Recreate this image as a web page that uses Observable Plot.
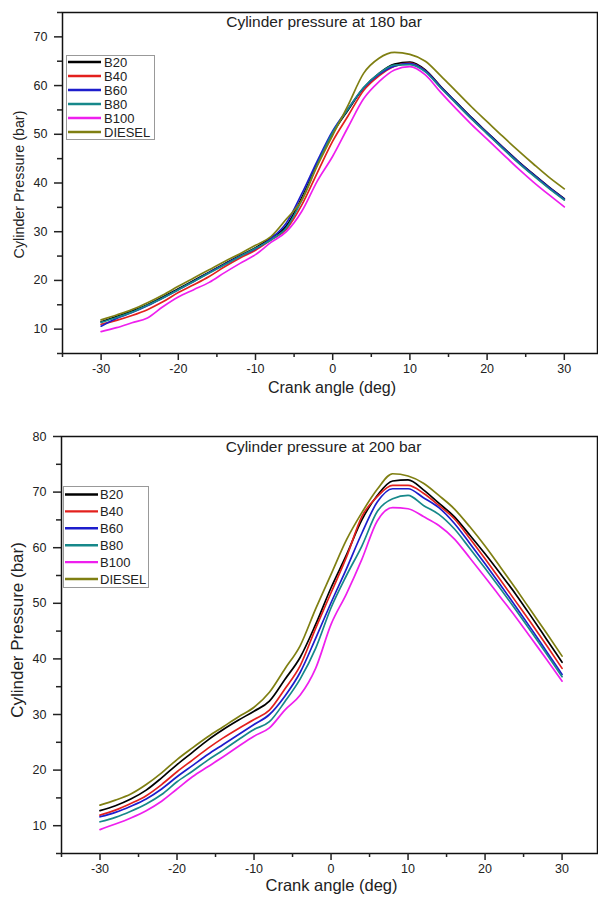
<!DOCTYPE html>
<html><head><meta charset="utf-8">
<script src="https://cdn.jsdelivr.net/npm/d3@7"></script>
<script src="https://cdn.jsdelivr.net/npm/@observablehq/plot@0.6"></script>
<style>
body{margin:0;background:#fff;}
#wrap{position:relative;width:598px;height:897px;font-family:"Liberation Sans",Arial,sans-serif;overflow:hidden;}
#wrap svg{position:absolute;left:0;}
</style></head><body><div id="wrap"></div>
<script>
// ---- data ----
const angles = [-30,-28,-26,-24,-22,-20,-18,-16,-14,-12,-10,-8,-6,-4,-2,0,2,4,6,8,10,12,14,16,18,20,22,24,26,28,30];
const series = ["B20","B40","B60","B80","B100","DIESEL"];
const colors = ["#000000","#e3201d","#1d1dcc","#16888a","#ee1fee","#7f7f12"];

const B20_180    = [11.5,12.6,13.7,15.0,16.6,18.3,20.0,21.7,23.4,25.1,26.7,28.7,31.2,37.0,44.0,50.2,55.0,59.5,62.5,64.4,64.8,63.2,59.8,56.6,53.4,50.4,47.4,44.5,41.8,39.2,36.8];
const B40_180    = [11.0,11.8,12.8,14.0,15.6,17.5,19.1,20.8,22.8,24.6,26.2,28.3,30.5,35.5,42.1,48.6,53.8,59.0,62.0,64.0,64.6,63.0,59.6,56.4,53.2,50.2,47.2,44.3,41.6,39.0,36.6];
const B60_180    = [10.6,12.2,13.4,14.8,16.4,18.1,19.8,21.6,23.3,25.0,26.5,28.6,31.8,37.8,44.5,50.7,55.3,59.5,62.3,64.0,64.5,63.0,59.7,56.5,53.3,50.3,47.3,44.4,41.7,39.1,36.7];
const B80_180    = [11.4,12.4,13.5,14.9,16.4,18.1,19.8,21.5,23.2,24.9,26.6,28.3,30.8,36.5,43.8,50.4,55.2,59.6,62.5,64.2,64.3,62.8,59.5,56.3,53.1,50.1,47.1,44.2,41.5,38.9,36.5];
const B100_180   = [9.5,10.3,11.3,12.3,14.6,16.6,18.1,19.6,21.6,23.5,25.3,27.8,30.0,34.2,40.4,45.5,51.5,57.3,60.8,63.2,63.9,62.2,58.6,55.2,52.0,49.0,46.0,43.0,40.2,37.6,35.1];
const DIESEL_180 = [11.9,12.9,14.0,15.4,17.0,18.8,20.5,22.2,23.9,25.5,27.2,29.0,32.6,36.5,43.5,49.8,56.0,62.5,65.6,66.8,66.4,65.0,62.0,58.8,55.6,52.6,49.6,46.7,43.9,41.2,38.8];

const B20_200    = [12.7,13.6,14.8,16.4,18.6,21.0,23.2,25.4,27.3,29.0,30.6,32.4,36.3,40.3,46.2,52.8,58.7,65.0,69.4,72.0,72.2,70.4,68.0,65.6,62.3,58.9,55.3,51.6,47.6,43.5,39.4];
const B40_200    = [11.9,12.8,14.0,15.4,17.4,19.7,21.8,23.9,25.8,27.5,29.1,30.8,34.6,38.8,45.5,51.9,58.3,65.6,69.2,71.2,71.2,69.8,67.6,65.2,61.7,58.0,54.2,50.3,46.4,42.4,38.3];
const B60_200    = [11.6,12.4,13.5,14.8,16.6,18.8,20.8,22.8,24.6,26.4,28.2,30.0,33.3,37.6,43.7,50.1,56.2,62.6,68.2,70.6,70.6,69.0,67.2,64.4,60.8,57.1,53.3,49.4,45.4,41.3,37.2];
const B80_200    = [10.7,11.5,12.6,13.9,15.6,17.9,19.8,21.8,23.6,25.5,27.3,28.7,32.3,36.4,41.9,49.2,55.0,60.3,66.5,68.8,69.4,67.6,66.0,63.4,59.9,56.3,52.6,48.8,44.9,40.9,36.8];
const B100_200   = [9.3,10.3,11.4,12.7,14.4,16.6,18.8,20.6,22.4,24.3,26.1,27.6,30.8,33.5,38.3,46.2,51.7,57.9,64.8,67.2,67.0,65.6,64.0,61.6,58.2,54.7,51.1,47.5,43.7,39.9,36.0];
const DIESEL_200 = [13.7,14.6,15.7,17.4,19.5,21.9,24.0,26.0,27.8,29.6,31.3,34.0,38.2,42.4,49.0,55.2,61.4,66.3,70.5,73.3,72.9,71.6,69.4,67.0,63.8,60.3,56.5,52.6,48.6,44.6,40.5];

const xTicks = [-30,-20,-10,0,10,20,30];
const xMinorTicks = [-35,-25,-15,-5,5,15,25];
const yTicks180 = [10,20,30,40,50,60,70];
const yMinor180 = [5,15,25,35,45,55,65,75];
const yTicks200 = [10,20,30,40,50,60,70,80];
const yMinor200 = [5,15,25,35,45,55,65,75];

const title180 = "Cylinder pressure at 180 bar";
const title200 = "Cylinder pressure at 200 bar";
const xLabel = "Crank angle (deg)";
const yLabel = "Cylinder Pressure (bar)";

function longData(arrs) {
  const out = [];
  series.forEach((s, i) => angles.forEach((a, j) => out.push({series: s, angle: a, p: arrs[i][j]})));
  return out;
}
const data180 = longData([B20_180, B40_180, B60_180, B80_180, B100_180, DIESEL_180]);
const data200 = longData([B20_200, B40_200, B60_200, B80_200, B100_200, DIESEL_200]);

const FONT = '"Liberation Sans", Arial, sans-serif';

function panel(o) {
  return Plot.plot({
    width: 598, height: o.height,
    marginLeft: o.ml, marginRight: 1, marginTop: o.mt, marginBottom: o.mb,
    style: {fontFamily: FONT, background: "#fff", overflow: "visible"},
    x: {domain: o.xDomain},
    y: {domain: o.yDomain},
    color: {domain: series, range: colors},
    marks: [
      Plot.line(o.data, {x: "angle", y: "p", z: "series", stroke: "series", strokeWidth: 1.7, curve: "monotone-x"}),
      Plot.frame({stroke: "#111", strokeWidth: 1.5}),
      Plot.axisX({ticks: xTicks, tickSize: 7, tickPadding: o.xpad, tickFormat: d => String(d), fontSize: o.tfs, color: "#222", strokeWidth: 1.5, label: null}),
      Plot.axisX({ticks: xMinorTicks, tickSize: 4, tickFormat: () => "", color: "#222", strokeWidth: 1.5, label: null}),
      Plot.axisY({ticks: o.yTicks, tickSize: 8, tickPadding: 7, tickFormat: d => String(d), fontSize: o.tfs, color: "#222", strokeWidth: 1.5, label: null}),
      Plot.axisY({ticks: o.yMinor, tickSize: 5, tickFormat: () => "", color: "#222", strokeWidth: 1.5, label: null}),
      Plot.text([o.title], {text: d => d, frameAnchor: "top", dx: -6, dy: o.tdy, lineAnchor: "top", fontSize: 15.5, fill: "#222"}),
      Plot.text([xLabel], {text: d => d, frameAnchor: "bottom", dx: 2, dy: o.xldy, lineAnchor: "top", fontSize: o.lfs, fill: "#222"}),
      Plot.text([yLabel], {text: d => d, frameAnchor: "left", textAnchor: "middle", rotate: -90, dx: -43.5, dy: o.yldy, fontSize: o.ylfs, fill: "#222"})
    ]
  });
}

const wrap = document.getElementById("wrap");
const topChart = panel({data: data180, height: 400, ml: 62, mt: 12, mb: 47, xDomain: [-35, 34.3], yDomain: [5, 75],
  yTicks: yTicks180, yMinor: yMinor180, title: title180, tdy: 3, xldy: 28, yldy: 1.5, tfs: 12.5, lfs: 16, ylfs: 14.3, xpad: 4});
topChart.style.top = "0px";
wrap.appendChild(topChart);
const botChart = panel({data: data200, height: 477, ml: 61, mt: 16, mb: 44, xDomain: [-35, 34.6], yDomain: [5, 80],
  yTicks: yTicks200, yMinor: yMinor200, title: title200, tdy: 4, xldy: 26, yldy: -15, tfs: 12.5, lfs: 16.5, ylfs: 17, xpad: 4});
botChart.style.top = "420px";
wrap.appendChild(botChart);

// legends
function legend(box, rowY, step, x0, x1, tx) {
  const svg = d3.select(wrap).append("svg")
    .attr("width", 598).attr("height", 897).style("top", "0px").style("pointer-events", "none");
  svg.append("rect").attr("x", box[0]).attr("y", box[1]).attr("width", box[2]).attr("height", box[3])
    .attr("fill", "#fff").attr("stroke", "#999").attr("stroke-width", 1);
  const g = svg.selectAll("g.it").data(series).join("g")
    .attr("transform", (d, i) => `translate(0,${rowY + i * step})`);
  g.append("line").attr("x1", x0).attr("x2", x1).attr("stroke", (d, i) => colors[i]).attr("stroke-width", 2.4);
  g.append("text").attr("x", tx).attr("dy", "0.36em").text(d => d)
    .attr("font-family", FONT).attr("font-size", 13).attr("fill", "#222");
}
legend([66.5, 55.5, 88, 84], 62, 14, 68, 101, 104);
legend([63.5, 486.5, 85, 101], 494.5, 16.9, 65, 98, 100);
</script></body></html>
